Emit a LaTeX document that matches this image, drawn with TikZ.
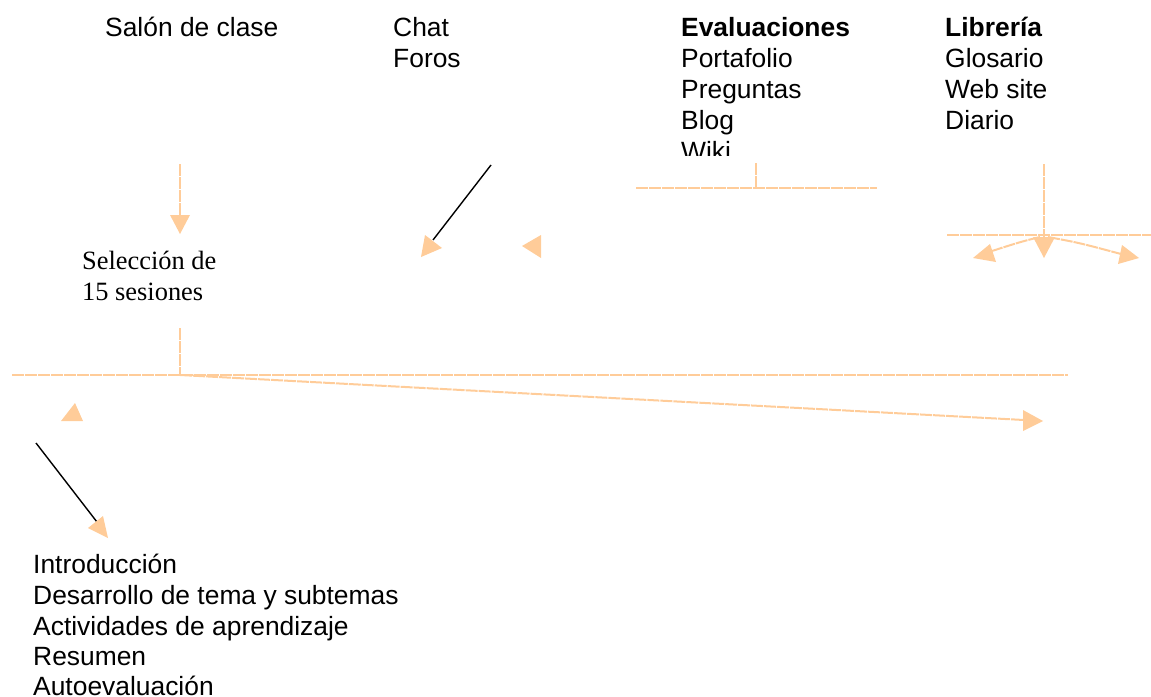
\documentclass[tikz,border=0pt]{standalone}
\usepackage{fontspec}
\setmainfont{Liberation Sans}
\newfontfamily\timesf{Liberation Serif}
\definecolor{peach}{HTML}{FFCC99}
\begin{document}
\begin{tikzpicture}[x=1pt,y=-1pt,
  txt/.style={anchor=base west, inner sep=0pt, font=\fontsize{26.4}{31}\selectfont},
  bold/.style={txt, font=\fontsize{26.4}{31}\selectfont\bfseries},
  serif/.style={txt, font=\fontsize{26.4}{31}\selectfont\timesf},
  ln/.style={draw=peach, line width=2pt, dash pattern=on 12pt off 1pt},
  blk/.style={draw=black, line width=1.4pt},
  hd/.style={fill=peach}]
\useasboundingbox (0,0) rectangle (1151,696);
% top texts
\node[txt] (salon) at (105,36) {Salón de clase};
\node[txt] (chat) at (393,36) {Chat};
\node[txt] (foros) at (393,67) {Foros};
\node[bold] (eval) at (681,36) {Evaluaciones};
\node[txt] (port) at (681,67) {Portafolio};
\node[txt] (preg) at (681,98) {Preguntas};
\node[txt] (blog) at (681,129) {Blog};
\begin{scope}
\clip (600,0) rectangle (900,155.5);
\node[txt] (wiki) at (681,160) {Wiki};
\end{scope}
\node[bold] (lib) at (945,36) {Librería};
\node[txt] (glos) at (945,67) {Glosario};
\node[txt] (web) at (945,98) {Web site};
\node[txt] (diario) at (945,129) {Diario};
% middle
\node[serif] (sel1) at (82,269) {Selección de};
\node[serif] (sel2) at (82,300) {15 sesiones};
% bottom list
\node[txt] (intro) at (33,573) {Introducción};
\node[txt] (des) at (33,604) {Desarrollo de tema y subtemas};
\node[txt] (act) at (33,635) {Actividades de aprendizaje};
\node[txt] (res) at (33,665) {Resumen};
\node[txt] (auto) at (33,695.5) {Autoevaluación};

% coordinates
\coordinate (s1) at (180,164);
\coordinate (s2) at (180,216);
\coordinate (c1) at (491,165);
\coordinate (c2) at (433,240);
\coordinate (e0) at (756,163);
\coordinate (e1) at (756,188);
\coordinate (eL) at (636,188);
\coordinate (eR) at (877,188);
\coordinate (l0) at (1044,164);
\coordinate (l1) at (1044,235);
\coordinate (lL) at (947,235);
\coordinate (lR) at (1151,235);
\coordinate (m0) at (180,328);
\coordinate (m1) at (180,375);
\coordinate (mL) at (12,375);
\coordinate (mR) at (1068,375);
\coordinate (d1) at (1024,420);
\coordinate (b1) at (36,443);
\coordinate (b2) at (97,522);

% Salón arrow
\draw[ln] (s1) -- (s2);
\fill[hd] (170,215) -- (190,215) -- (180,234) -- cycle;
% Chat/Foros arrow
\draw[blk] (c1) -- (c2);
\fill[hd] (421,257) -- (425,235) -- (442,248) -- cycle;
\fill[hd] (522,246) -- (541,235) -- (541,258) -- cycle;
% Evaluaciones bracket
\draw[ln] (e0) -- (e1);
\draw[ln] (eL) -- (eR);
% Librería
\draw[ln] (l0) -- (l1);
\draw[ln] (lL) -- (lR);
\draw[ln] (l1) -- (1044,238);
\fill[hd] (1033,237) -- (1055,237) -- (1044,258) -- cycle;
\draw[ln] (1040,237) .. controls (1020,242) .. (992,251);
\fill[hd] (973,258) -- (990,244) -- (996,262) -- cycle;
\draw[ln] (1048,237) .. controls (1080,243) .. (1121,254);
\fill[hd] (1139,258) -- (1122,245) -- (1118,264) -- cycle;
% Selección
\draw[ln] (m0) -- (m1);
\draw[ln] (mL) -- (mR);
\draw[ln] (m1) -- (d1);
\fill[hd] (1043,421) -- (1023,410) -- (1023,431) -- cycle;
\fill[hd] (75,403) -- (61,421) -- (83,421) -- cycle;
% bottom arrow
\draw[blk] (b1) -- (b2);
\fill[hd] (108,538) -- (88,528) -- (103,516) -- cycle;
\end{tikzpicture}
\end{document}
